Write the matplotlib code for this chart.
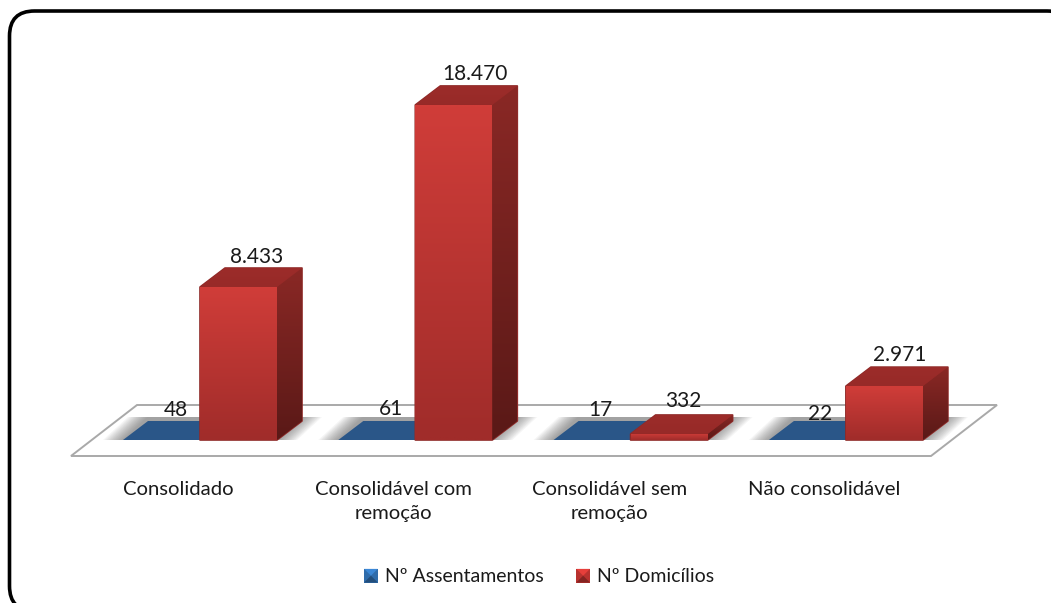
#!/usr/bin/env python3
import numpy as np
import matplotlib
matplotlib.use("Agg")
import matplotlib.pyplot as plt
from matplotlib.legend_handler import HandlerBase
from matplotlib.patches import FancyBboxPatch, Patch, Polygon

categories = ["Consolidado", "Consolidável com\nremoção", "Consolidável sem\nremoção", "Não consolidável"]
assentamentos = [48, 61, 17, 22]
domicilios = [8433, 18470, 332, 2971]
labels_a = ["48", "61", "17", "22"]
labels_d = ["8.433", "18.470", "332", "2.971"]

W, H = 1051, 603
STEP = 215.3      # px per category
K = 0.01814       # px per domicile
X0, Y0 = 200, 440  # pixel of category 0 centre, value 0
BAR = 77 / STEP   # bar width in category units
DX = 25 / STEP    # oblique depth
DY = 19 / K
FONT = "Lato"

# hand nudges for the labels, in px
nudge_a = [(6, -6), (6, -7), (0, -6), (5, -2)]
nudge_d = [(-7, 0), (-4, -1), (-11, -3), (-10, -1)]


def px(x, y):
    # pixel position -> data position
    return (x - X0) / STEP, (Y0 - y) / K


def face(ax, pts, top, bottom, zorder):
    # polygon filled with a vertical gradient
    pts = np.array(pts)
    patch = Polygon(pts, closed=True, fc="none", ec="none", zorder=zorder)
    ax.add_patch(patch)
    c = np.array([matplotlib.colors.to_rgb(top), matplotlib.colors.to_rgb(bottom)])
    t = np.linspace(0, 1, 64)[:, None]
    img = (c[0] * (1 - t) + c[1] * t)[:, None, :]
    x0, x1 = pts[:, 0].min(), pts[:, 0].max()
    y0, y1 = pts[:, 1].min(), pts[:, 1].max()
    im = ax.imshow(img, extent=(x0, x1, y0, y1), origin="upper", aspect="auto",
                   zorder=zorder, interpolation="bilinear")
    im.set_clip_path(patch)


def bar3d(ax, x, v, zorder):
    # rounded silhouette, then side, top and front of one red bar
    r = x + BAR
    outline = [(x, 0), (r, 0), (r + DX, DY), (r + DX, v + DY), (x + DX, v + DY), (x, v)]
    ax.add_patch(Polygon(outline, closed=True, fc="#8a2825", ec="#8f2a28", lw=1.2,
                         joinstyle="round", zorder=zorder - 0.1))
    face(ax, [(r, 0), (r + DX, DY), (r + DX, v + DY), (r, v)], "#8a2825", "#5a1917", zorder)
    face(ax, [(x, v), (r, v), (r + DX, v + DY), (x + DX, v + DY)], "#9c2c2a", "#972a28", zorder + 0.1)
    face(ax, [(x, 0), (r, 0), (r, v), (x, v)], "#d03d39", "#a02c2a", zorder + 0.2)


def shadow(ax, x):
    # soft grey halo under a bar footprint
    for grow in np.linspace(1.0, 0.05, 12):
        g = grow * 20 / STEP
        top = DY + 4 / K
        pts = [(x - BAR - g, 0), (x + BAR + g, 0),
               (x + BAR + DX + g, top), (x - BAR + DX - g, top)]
        ax.add_patch(Polygon(pts, closed=True, fc="#404040", ec="none", alpha=0.05, zorder=2))


class BevelHandler(HandlerBase):
    def create_artists(self, legend, orig, xd, yd, width, height, fontsize, trans):
        s = height * 1.0
        x = xd * -1 + width - s
        y = -yd
        c = orig.get_facecolor()
        dark = tuple(v * 0.72 for v in c[:3])
        light = tuple(min(1, v * 1.25) for v in c[:3])
        base = Polygon([(x, y), (x + s, y), (x + s, y + s), (x, y + s)], fc=c, ec="none", transform=trans)
        tri = Polygon([(x, y + s), (x + s, y + s), (x + s / 2, y + s / 2)], fc=light, ec="none", transform=trans)
        low = Polygon([(x, y), (x + s, y), (x + s / 2, y + s / 2)], fc=dark, ec="none", transform=trans)
        return [base, tri, low]


def main():
    fig = plt.figure(figsize=(W / 100, H / 100), dpi=100, facecolor="white")
    ax = fig.add_axes([0, 0, 1, 1])
    ax.axis("off")

    # page border, runs off the right and bottom of the image
    frame = FancyBboxPatch((9.5 / W, (H - 611) / H), (1072 - 9.5) / W, 600 / H,
                           boxstyle=f"round,pad=0,rounding_size={25 / W}", mutation_aspect=W / H,
                           transform=fig.transFigure, fc="white", ec="black", lw=2.6, zorder=0,
                           clip_on=False)
    ax.add_patch(frame)

    # floor
    floor = [px(71, 456), px(931, 456), px(997, 405), px(137, 405)]
    ax.add_patch(Polygon(floor, closed=True, fc="white", ec="#a9a9a9", lw=1.4, zorder=1))

    xs = np.arange(len(categories))
    for i in xs:
        shadow(ax, i)
        # blue tile for the settlements series, flat on the floor
        tile = [(i - BAR, 0), (i, 0), (i + DX, DY), (i - BAR + DX, DY)]
        ax.add_patch(Polygon(tile, closed=True, fc="#2a5688", ec="none", zorder=3))
        dx, dy = nudge_a[i]
        ax.text(i - BAR + 0.5 * (BAR + DX) - 0.02 + dx / STEP, DY * 0.75 - dy / K, labels_a[i],
                ha="center", va="bottom", family=FONT, fontsize=15, color="#1a1a1a", zorder=4)

    for i in xs:
        bar3d(ax, i, domicilios[i], 5)
        dx, dy = nudge_d[i]
        ax.text(i + BAR * 0.5 + DX + dx / STEP, domicilios[i] + DY + (1 - dy) / K, labels_d[i],
                ha="center", va="bottom", family=FONT, fontsize=15, color="#1a1a1a", zorder=8)

    for i, cat in enumerate(categories):
        ax.text(i - 0.1, px(0, 481)[1], cat, ha="center", va="top", family=FONT, fontsize=14.6,
                color="#1a1a1a", linespacing=1.5, zorder=8)

    handles = [Patch(fc="#2f6cab", label="Nº Assentamentos"), Patch(fc="#b8322f", label="Nº Domicílios")]
    ax.legend(handles=handles, loc="center", bbox_to_anchor=(539 / W, 1 - 577 / H), ncol=2, frameon=False,
              handler_map={Patch: BevelHandler()}, prop={"family": FONT, "size": 14},
              labelcolor="#1a1a1a", handlelength=0.7, handleheight=0.7, handletextpad=0.35, columnspacing=1.7)

    ax.set_xlim(px(0, 0)[0], px(W, 0)[0])
    ax.set_ylim(px(0, H)[1], px(0, 0)[1])
    fig.savefig("out.png", dpi=100)
    plt.close(fig)


if __name__ == "__main__":
    main()
